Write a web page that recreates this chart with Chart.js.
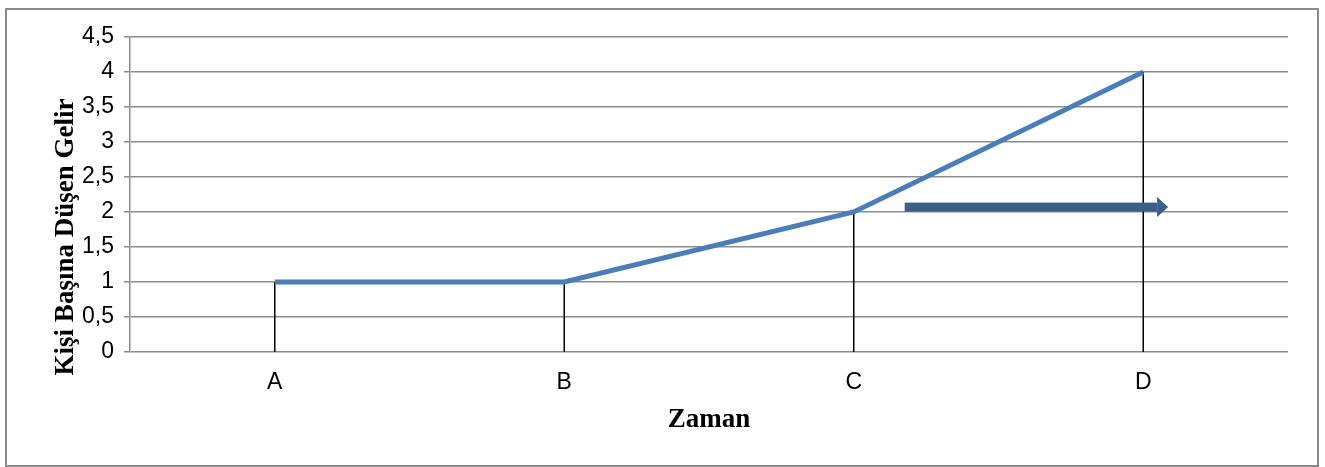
<!DOCTYPE html>
<html>
<head>
<meta charset="utf-8">
<script src="https://cdn.jsdelivr.net/npm/chart.js@4.4.0/dist/chart.umd.min.js"></script>
<style>
  html, body { margin: 0; padding: 0; background: #fff; }
  #wrap { position: relative; width: 1325px; height: 467px; }
  #frame {
    position: absolute; left: 5px; top: 8px; width: 1310px; height: 455px;
    border: 2px solid #8c8c8c;
  }
  canvas { position: absolute; left: 0; top: 0; }
</style>
</head>
<body>
<div id="wrap">
  <div id="frame"></div>
  <canvas id="chart" width="1325" height="467"></canvas>
</div>
<script>
// Chart data
const categories = ["A", "B", "C", "D"];
const income = [1, 1, 2, 4];
const yTicks = [0, 0.5, 1, 1.5, 2, 2.5, 3, 3.5, 4, 4.5];
const yTitle = "Kişi Başına Düşen Gelir";
// Arrow from (category index, value) to (category index, value)
const arrowFrom = [2.176, 2.07];
const arrowTo = [3.086, 2.07];

// Draw black drop lines from each point down to the x axis
const dropLines = {
  id: "dropLines",
  beforeDatasetsDraw(chart) {
    const { ctx, chartArea, scales } = chart;
    ctx.save();
    ctx.strokeStyle = "#000";
    ctx.lineWidth = 1.5;
    income.forEach((v, i) => {
      const x = scales.x.getPixelForValue(i);
      const y = scales.y.getPixelForValue(v);
      ctx.beginPath();
      ctx.moveTo(x, y);
      ctx.lineTo(x, chartArea.bottom);
      ctx.stroke();
    });
    ctx.restore();
  },
};

// Dark blue arrow
const arrow = {
  id: "arrow",
  afterDatasetsDraw(chart) {
    const { ctx, scales } = chart;
    const sx = scales.x;
    const step = sx.getPixelForValue(1) - sx.getPixelForValue(0);
    const x1 = sx.getPixelForValue(0) + arrowFrom[0] * step;
    const x2 = sx.getPixelForValue(0) + arrowTo[0] * step;
    const y1 = scales.y.getPixelForValue(arrowFrom[1]);
    const y2 = scales.y.getPixelForValue(arrowTo[1]);
    const head = 11;
    ctx.save();
    ctx.fillStyle = "#3B5E8C";
    ctx.fillRect(x1, y1 - 4.5, x2 - head - x1, 9);
    ctx.beginPath();
    ctx.moveTo(x2 - head, y2 - 10);
    ctx.lineTo(x2, y2);
    ctx.lineTo(x2 - head, y2 + 10);
    ctx.closePath();
    ctx.fill();
    ctx.restore();
  },
};

// Y axis title, sitting a bit lower than the axis centre like the original
const yTitlePlugin = {
  id: "yTitle",
  afterDraw(chart) {
    const { ctx } = chart;
    ctx.save();
    ctx.translate(66, 237);
    ctx.rotate(-Math.PI / 2);
    ctx.font = "bold 27px 'Liberation Serif', 'Times New Roman'";
    ctx.fillStyle = "#000";
    ctx.textAlign = "center";
    ctx.textBaseline = "middle";
    ctx.fillText(yTitle, 0, 0);
    ctx.restore();
  },
};

new Chart(document.getElementById("chart").getContext("2d"), {
  type: "line",
  data: {
    labels: categories,
    datasets: [
      {
        data: income,
        borderColor: "#4A7EBB",
        borderWidth: 5,
        pointRadius: 0,
        tension: 0,
        fill: false,
      },
    ],
  },
  options: {
    responsive: false,
    animation: false,
    layout: { padding: { top: 37, right: 37, left: 0, bottom: 0 } },
    plugins: {
      legend: { display: false },
      tooltip: { enabled: false },
    },
    scales: {
      x: {
        offset: true,
        grid: { display: false, drawTicks: false },
        border: { display: false },
        ticks: {
          color: "#000",
          padding: 17,
          font: { family: "Liberation Sans, Arial", size: 23 },
        },
        title: {
          display: true,
          text: "Zaman",
          color: "#000",
          padding: { top: 0, bottom: 31 },
          font: { family: "Liberation Serif, Times New Roman", size: 27, weight: "bold" },
        },
        afterFit(scale) {
          scale.height = 115;
        },
      },
      y: {
        min: 0,
        max: 4.5,
        afterBuildTicks(scale) {
          scale.ticks = yTicks.map((v) => ({ value: v }));
        },
        grid: {
          color: "#8c8c8c",
          lineWidth: 1.5,
          tickLength: 6,
        },
        border: { display: true, color: "#8c8c8c", width: 1.5 },
        ticks: {
          color: "#000",
          padding: 10,
          font: { family: "Liberation Sans, Arial", size: 23 },
          callback: (value) => String(value).replace(".", ","),
        },
        title: { display: false },
        afterFit(scale) {
          scale.width = 130;
        },
      },
    },
  },
  plugins: [dropLines, arrow, yTitlePlugin],
});
</script>
</body>
</html>
